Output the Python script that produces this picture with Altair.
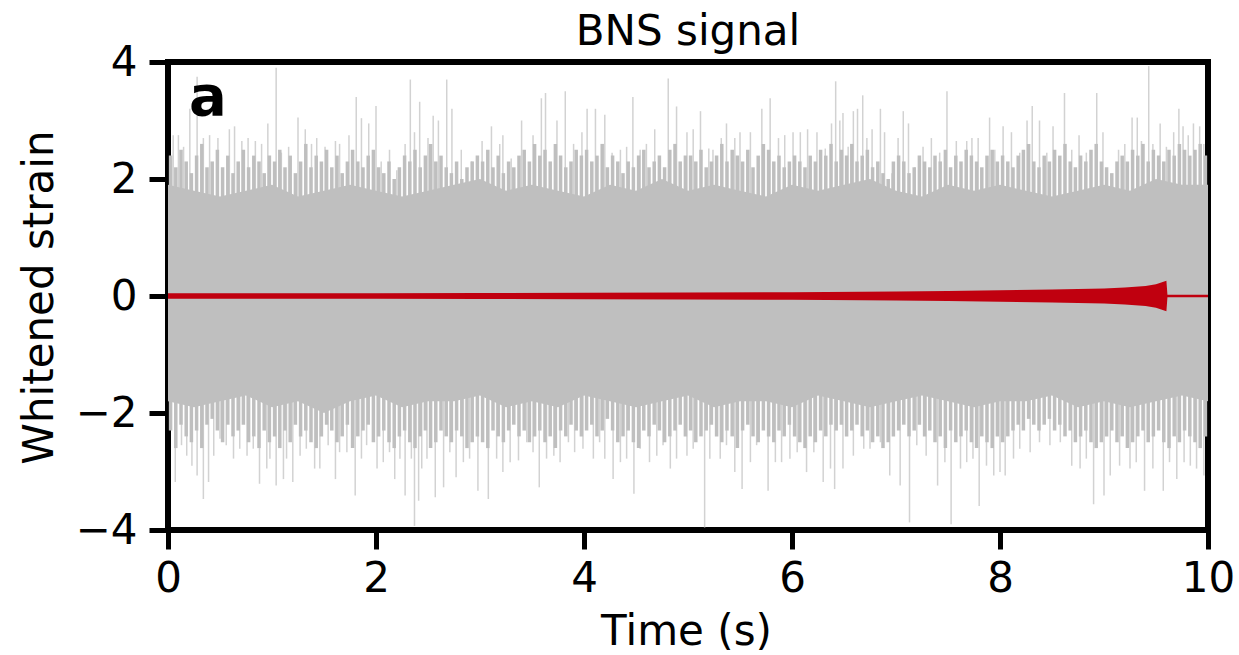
import altair as alt
import pandas as pd

# ---------------- data ----------------
# upper noise spikes (time s, whitened strain)
up_t = [0.05, 0.10, 0.15, 0.21, 0.28, 0.34, 0.40, 0.48, 0.59, 0.64, 0.71, 0.77, 0.84, 0.90, 0.96,
        1.04, 1.09, 1.16, 1.25, 1.32, 1.38, 1.43, 1.51, 1.61, 1.65, 1.74, 1.81, 1.86, 1.93, 2.00,
        2.05, 2.13, 2.20, 2.28, 2.33, 2.37, 2.42, 2.50, 2.55, 2.60, 2.68, 2.73, 2.82, 2.92, 3.02,
        3.11, 3.19, 3.22, 3.30, 3.40, 3.51, 3.59, 3.63, 3.74, 3.82, 3.90, 3.98, 4.03, 4.11, 4.20,
        4.27, 4.35, 4.41, 4.47, 4.54, 4.60, 4.68, 4.73, 4.81, 4.89, 4.99, 5.05, 5.12, 5.20, 5.24,
        5.32, 5.37, 5.45, 5.50, 5.60, 5.71, 5.79, 5.87, 5.93, 6.01, 6.08, 6.15, 6.24, 6.32, 6.38,
        6.42, 6.46, 6.49, 6.54, 6.59, 6.63, 6.68, 6.72, 6.77, 6.85, 6.89, 6.96, 7.02, 7.07, 7.12,
        7.18, 7.26, 7.34, 7.42, 7.49, 7.58, 7.68, 7.73, 7.79, 7.90, 7.95, 8.03, 8.11, 8.19, 8.26,
        8.31, 8.38, 8.45, 8.51, 8.62, 8.69, 8.76, 8.83, 8.93, 8.99, 9.07, 9.14, 9.20, 9.27, 9.32,
        9.36, 9.43, 9.47, 9.54, 9.60, 9.67, 9.72, 9.76, 9.81, 9.86, 9.92, 9.96]
up_v = [2.75, 2.75, 2.55, 3.2, 3.75, 2.7, 2.75, 2.7, 2.85, 2.9, 2.65, 2.7, 2.65, 2.6, 2.95,
        3.9, 2.45, 2.55, 3.05, 2.85, 2.6, 2.7, 2.55, 2.65, 2.6, 2.75, 3.4, 3.04, 2.95, 3.25,
        2.3, 2.5, 2.15, 2.6, 3.7, 2.8, 3.32, 2.7, 3.08, 3.0, 3.7, 3.2, 2.5, 2.3, 2.65,
        2.9, 2.6, 2.75, 2.35, 3.0, 2.75, 3.38, 3.47, 3.0, 3.5, 2.6, 2.8, 3.2, 3.2, 3.1,
        2.45, 2.5, 2.55, 3.4, 2.5, 2.6, 2.85, 2.3, 3.72, 3.24, 2.8, 2.85, 3.16, 2.52, 2.5,
        2.7, 2.95, 2.7, 2.8, 2.8, 3.2, 3.38, 2.7, 2.75, 2.8, 2.8, 2.85, 2.8, 2.52, 2.95,
        3.67, 3.0, 3.13, 2.55, 3.16, 3.2, 3.43, 2.7, 2.85, 3.2, 2.8, 2.1, 2.7, 3.16, 2.95,
        2.2, 2.55, 2.7, 2.45, 3.5, 2.65, 2.65, 2.7, 2.7, 3.05, 2.5, 2.9, 2.8, 2.45, 3.0,
        3.25, 3.0, 2.45, 2.9, 3.47, 2.5, 2.75, 2.45, 3.47, 2.8, 2.08, 2.5, 2.6, 3.05, 3.05,
        2.65, 3.93, 2.6, 2.95, 2.55, 2.8, 3.2, 2.9, 2.75, 2.95, 2.9, 2.6]

# lower noise spikes
lo_t = [0.07, 0.13, 0.18, 0.23, 0.28, 0.34, 0.39, 0.44, 0.50, 0.56, 0.63, 0.69, 0.76, 0.82, 0.88,
        0.95, 0.98, 1.04, 1.11, 1.14, 1.20, 1.27, 1.33, 1.41, 1.46, 1.54, 1.61, 1.65, 1.72, 1.80,
        1.86, 1.91, 2.01, 2.07, 2.13, 2.18, 2.23, 2.28, 2.34, 2.37, 2.41, 2.44, 2.49, 2.57, 2.65,
        2.71, 2.77, 2.84, 2.90, 2.98, 3.08, 3.16, 3.22, 3.29, 3.37, 3.45, 3.51, 3.57, 3.64, 3.71,
        3.77, 3.85, 3.91, 3.99, 4.09, 4.15, 4.20, 4.28, 4.35, 4.41, 4.48, 4.54, 4.63, 4.70, 4.76,
        4.83, 4.89, 4.99, 5.05, 5.16, 5.21, 5.31, 5.37, 5.45, 5.52, 5.60, 5.66, 5.77, 5.84, 5.90,
        5.98, 6.05, 6.14, 6.21, 6.30, 6.37, 6.41, 6.49, 6.59, 6.69, 6.75, 6.85, 6.94, 7.04, 7.13,
        7.20, 7.29, 7.40, 7.47, 7.53, 7.62, 7.68, 7.74, 7.80, 7.87, 7.94, 8.00, 8.05, 8.13, 8.19,
        8.29, 8.38, 8.48, 8.58, 8.69, 8.77, 8.83, 8.90, 9.00, 9.06, 9.15, 9.25, 9.31, 9.39, 9.47,
        9.57, 9.63, 9.70, 9.77, 9.83, 9.89, 9.96]
lo_v = [-3.18, -2.55, -2.73, -2.9, -3.07, -3.47, -3.18, -2.73, -2.44, -2.55, -2.78, -2.61, -2.73, -2.61, -3.21,
        -2.95, -2.78, -3.24, -3.13, -2.78, -3.18, -2.73, -2.61, -2.95, -2.95, -2.55, -3.13, -2.67, -2.67, -3.41,
        -2.78, -2.55, -2.95, -2.84, -2.67, -3.13, -2.78, -3.41, -2.78, -3.93, -3.5, -2.95, -2.78, -3.44, -3.27,
        -2.67, -3.1, -2.84, -2.78, -3.33, -3.47, -2.78, -3.01, -2.84, -2.81, -2.5, -2.67, -3.27, -2.78, -2.73,
        -2.84, -2.5, -2.67, -2.61, -2.78, -2.5, -2.78, -3.13, -2.84, -2.78, -3.38, -2.61, -2.84, -2.73, -2.55,
        -2.95, -2.78, -2.73, -2.61, -3.96, -2.78, -2.78, -2.55, -3.01, -3.3, -2.84, -2.55, -3.33, -2.84, -2.84,
        -2.78, -2.67, -3.01, -2.67, -3.18, -2.95, -3.3, -2.95, -2.73, -2.61, -2.61, -2.5, -3.07, -3.24, -3.87,
        -2.55, -2.73, -3.24, -2.84, -3.9, -2.95, -2.84, -2.78, -3.59, -2.9, -3.07, -3.01, -3.07, -2.78, -2.61,
        -2.67, -2.5, -2.55, -2.5, -2.9, -2.95, -2.78, -3.56, -3.41, -3.07, -2.9, -2.95, -2.84, -3.33, -2.95,
        -3.33, -2.84, -3.13, -2.84, -2.9, -2.95, -3.07]

# moderate noise excursions, one every 0.05 s (starting at 0.025 s)
mid_t = [0.025 + 0.05 * i for i in range(200)]
mid_hi = [2.4, 2.2, 2.5, 2.3, 2.1, 2.4, 2.6, 2.2, 2.3, 2.5, 2.2, 2.4, 2.1, 2.3, 2.5, 2.2, 2.4, 2.3, 2.1, 2.4,
          2.3, 2.5, 2.2, 2.4, 2.1, 2.3, 2.6, 2.2, 2.4, 2.3, 2.5, 2.2, 2.4, 2.1, 2.3, 2.5, 2.3, 2.2, 2.4, 2.5,
          2.2, 2.1, 2.3, 2.0, 2.2, 2.4, 2.3, 2.5, 2.2, 2.4, 2.6, 2.3, 2.4, 2.2, 2.1, 2.3, 2.0, 2.2, 2.3, 2.4,
          2.3, 2.5, 2.2, 2.4, 2.1, 2.3, 2.2, 2.4, 2.5, 2.3, 2.6, 2.4, 2.5, 2.3, 2.6, 2.4, 2.2, 2.3, 2.5, 2.4,
          2.5, 2.3, 2.4, 2.6, 2.2, 2.4, 2.3, 2.1, 2.3, 2.2, 2.4, 2.5, 2.2, 2.3, 2.4, 2.2, 2.5, 2.6, 2.3, 2.4,
          2.4, 2.3, 2.5, 2.2, 2.3, 2.4, 2.6, 2.3, 2.5, 2.4, 2.3, 2.5, 2.2, 2.4, 2.6, 2.5, 2.3, 2.4, 2.2, 2.3,
          2.4, 2.3, 2.2, 2.4, 2.3, 2.5, 2.4, 2.6, 2.3, 2.5, 2.4, 2.6, 2.3, 2.4, 2.5, 2.2, 2.3, 2.1, 2.0, 2.3,
          2.4, 2.3, 2.1, 2.2, 2.4, 2.3, 2.2, 2.4, 2.3, 2.5, 2.2, 2.4, 2.3, 2.5, 2.4, 2.3, 2.2, 2.4, 2.5, 2.3,
          2.4, 2.3, 2.2, 2.4, 2.5, 2.6, 2.3, 2.2, 2.4, 2.3, 2.5, 2.4, 2.6, 2.3, 2.2, 2.4, 2.3, 2.5, 2.6, 2.3,
          2.2, 2.1, 2.3, 2.4, 2.3, 2.5, 2.4, 2.6, 2.3, 2.5, 2.4, 2.3, 2.5, 2.4, 2.6, 2.5, 2.4, 2.5, 2.6, 2.4]
mid_lo = [-2.3, -2.6, -2.2, -2.4, -2.5, -2.3, -2.6, -2.2, -2.1, -2.3, -2.5, -2.2, -2.4, -2.3, -2.2, -2.5, -2.4, -2.6, -2.3, -2.5,
          -2.4, -2.6, -2.3, -2.5, -2.2, -2.4, -2.3, -2.5, -2.6, -2.4, -2.2, -2.3, -2.5, -2.4, -2.2, -2.6, -2.4, -2.3, -2.2, -2.5,
          -2.4, -2.3, -2.5, -2.6, -2.4, -2.3, -2.5, -2.6, -2.4, -2.3, -2.6, -2.5, -2.3, -2.4, -2.5, -2.3, -2.4, -2.6, -2.5, -2.4,
          -2.5, -2.6, -2.3, -2.4, -2.5, -2.3, -2.2, -2.4, -2.3, -2.5, -2.4, -2.3, -2.5, -2.4, -2.6, -2.3, -2.4, -2.2, -2.3, -2.4,
          -2.3, -2.2, -2.4, -2.3, -2.1, -2.3, -2.5, -2.4, -2.3, -2.5, -2.6, -2.3, -2.4, -2.2, -2.3, -2.5, -2.4, -2.3, -2.2, -2.4,
          -2.3, -2.5, -2.4, -2.3, -2.2, -2.4, -2.5, -2.3, -2.4, -2.6, -2.3, -2.2, -2.4, -2.5, -2.3, -2.4, -2.5, -2.3, -2.4, -2.2,
          -2.4, -2.5, -2.6, -2.4, -2.5, -2.3, -2.4, -2.2, -2.3, -2.2, -2.4, -2.3, -2.2, -2.4, -2.3, -2.5, -2.4, -2.6, -2.5, -2.4,
          -2.3, -2.2, -2.4, -2.3, -2.2, -2.4, -2.3, -2.5, -2.4, -2.6, -2.3, -2.5, -2.4, -2.3, -2.5, -2.6, -2.4, -2.5, -2.6, -2.4,
          -2.5, -2.4, -2.3, -2.2, -2.3, -2.1, -2.2, -2.3, -2.2, -2.1, -2.3, -2.2, -2.4, -2.3, -2.5, -2.4, -2.3, -2.5, -2.6, -2.5,
          -2.4, -2.3, -2.5, -2.4, -2.6, -2.5, -2.4, -2.3, -2.5, -2.4, -2.3, -2.5, -2.6, -2.4, -2.5, -2.3, -2.4, -2.5, -2.6, -2.4]

# dense core of the noise band (every 0.25 s)
core_t = [i * 0.25 for i in range(41)]
core_hi = [1.9, 1.8, 1.7, 1.8, 1.9, 1.7, 1.8, 1.9, 1.8, 1.7, 1.8, 1.9, 2.0, 1.8, 1.9, 1.8, 1.7, 1.9,
           1.8, 2.0, 1.8, 1.9, 1.8, 1.7, 1.9, 1.8, 1.9, 2.0, 1.8, 1.7, 1.9, 1.8, 1.9, 1.8, 1.7, 1.8,
           1.9, 1.8, 2.0, 1.9, 1.9]
core_lo = [-1.8, -1.9, -1.8, -1.7, -1.9, -1.8, -2.0, -1.8, -1.7, -1.9, -1.8, -1.8, -1.7, -1.9, -1.8,
           -1.9, -1.7, -1.8, -1.9, -1.8, -1.7, -1.9, -1.8, -1.8, -1.9, -1.7, -1.8, -1.9, -1.8, -1.7,
           -1.8, -1.9, -1.8, -1.8, -1.7, -1.9, -1.8, -1.9, -1.8, -1.7, -1.8]

# BNS chirp envelope (half amplitude)
sig_t = [0, 1, 2, 3, 4, 5, 6, 7, 7.5, 8, 8.5, 9, 9.2, 9.4, 9.5, 9.55, 9.6, 9.61, 10]
sig_a = [0.045, 0.045, 0.047, 0.05, 0.055, 0.06, 0.065, 0.075, 0.085, 0.1, 0.11, 0.13,
         0.145, 0.17, 0.2, 0.23, 0.26, 0.022, 0.022]

FONT = "DejaVu Sans"
FS = 42

spikes = pd.DataFrame({"t": up_t + lo_t, "v": up_v + lo_v, "base": [0.0] * (len(up_t) + len(lo_t))})
mids = pd.DataFrame({"t": mid_t + mid_t, "v": mid_hi + mid_lo, "base": [0.0] * (2 * len(mid_t))})
core = pd.DataFrame({"t": core_t, "hi": core_hi, "lo": core_lo})
sig = pd.DataFrame({"t": sig_t, "hi": sig_a, "lo": [-a for a in sig_a]})

xs = alt.Scale(domain=[0, 10], nice=False, zero=False)
ys = alt.Scale(domain=[-4, 4], nice=False)

xax = alt.Axis(values=[0, 2, 4, 6, 8, 10], format="d", title="Time (s)", grid=False, domain=False,
               labelFlush=False, labelOverlap=False,
               tickColor="black", tickWidth=5, tickSize=19, labelPadding=9,
               labelFontSize=FS, labelFont=FONT, labelColor="black",
               titleFontSize=FS, titleFont=FONT, titleFontWeight="normal", titleColor="black",
               titleBaseline="alphabetic", titleY=114, titleX=518, titleAlign="center")
yax = alt.Axis(values=[-4, -2, 0, 2, 4], format="d", title="Whitened strain", grid=False, domain=False,
               labelFlush=False, labelOverlap=False,
               tickColor="black", tickWidth=5, tickSize=19, labelPadding=12,
               labelFontSize=FS, labelFont=FONT, labelColor="black",
               titleFontSize=FS, titleFont=FONT, titleFontWeight="normal", titleColor="black",
               titleAngle=270, titleBaseline="alphabetic", titleAlign="center",
               titleX=-116, titleY=235)

mid_layer = alt.Chart(mids).mark_rule(color="#bfbfbf", strokeWidth=3.5, opacity=1, clip=True).encode(
    x=alt.X("t:Q", scale=xs, axis=xax), y=alt.Y("v:Q", scale=ys, axis=yax), y2="base:Q")

spike_layer = alt.Chart(spikes).mark_rule(color="#bfbfbf", strokeWidth=1.5, opacity=0.7, clip=True).encode(
    x=alt.X("t:Q", scale=xs), y=alt.Y("v:Q", scale=ys), y2="base:Q")

core_layer = alt.Chart(core).mark_area(color="#bfbfbf", clip=True).encode(
    x=alt.X("t:Q", scale=xs), y=alt.Y("lo:Q", scale=ys), y2="hi:Q")

sig_layer = alt.Chart(sig).mark_area(color="#c0000f", clip=True).encode(
    x=alt.X("t:Q", scale=xs), y=alt.Y("lo:Q", scale=ys), y2="hi:Q")

label = alt.Chart(pd.DataFrame({"s": ["a"]})).mark_text(
    font=FONT, fontSize=56, fontWeight="bold", color="black", align="left", baseline="alphabetic"
).encode(text="s:N", x=alt.value(21), y=alt.value(53))

title = alt.Chart(pd.DataFrame({"s": ["BNS signal"]})).mark_text(
    font=FONT, fontSize=FS, color="black", align="center", baseline="alphabetic"
).encode(text="s:N", x=alt.value(520), y=alt.value(-17))

chart = alt.layer(mid_layer, spike_layer, core_layer, sig_layer, label, title).properties(
    width=1040, height=468,
    background="white",
    autosize=alt.AutoSizeParams(type="none"),
    padding={"left": 168, "top": 62, "right": 31, "bottom": 125},
).configure_view(stroke="black", strokeWidth=6)

chart.save("out.html", embed_options={"renderer": "svg", "actions": False})
